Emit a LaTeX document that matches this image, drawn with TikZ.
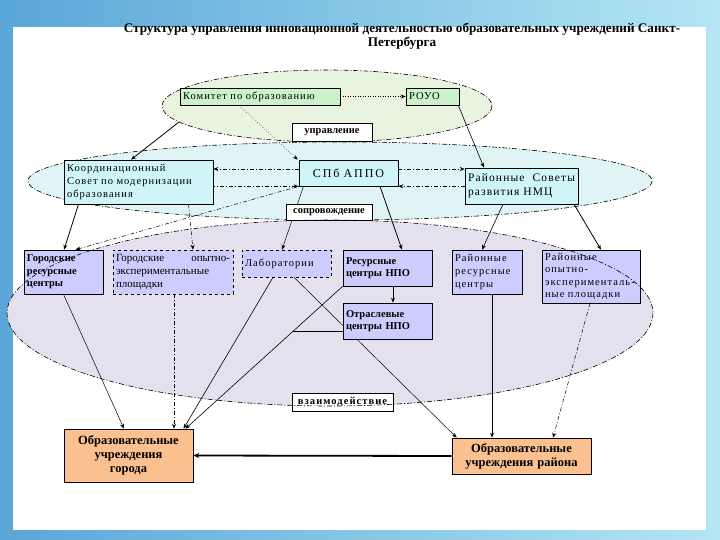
\documentclass[tikz,border=0pt]{standalone}
\usepackage{fontspec}
\setmainfont{Liberation Serif}
\newfontfamily\spc[LetterSpace=10]{Liberation Serif}
\newfontfamily\spcw[LetterSpace=16]{Liberation Serif}
\usetikzlibrary{arrows.meta}
\pgfdeclarelayer{bg}
\pgfdeclarelayer{fg}
\pgfsetlayers{bg,main,fg}
\definecolor{slideL}{HTML}{5AA6D8}
\definecolor{slideR}{HTML}{B4E6F4}
\definecolor{grn}{HTML}{CCF2CC}
\definecolor{cyn}{HTML}{CFF5F8}
\definecolor{prp}{HTML}{CCCCFF}
\definecolor{pch}{HTML}{FAC090}
\definecolor{ellG}{HTML}{E8F4E0}
\definecolor{ellC}{HTML}{E0F4F6}
\definecolor{ellP}{HTML}{E4E0EE}
\tikzset{
  box/.style={draw=black, line width=0.6pt, inner xsep=3pt, inner ysep=1.5pt, align=left, font=\spc\fontsize{10.5}{13}\selectfont},
  bbox/.style={box, font=\bfseries\fontsize{10.5}{12.5}\selectfont},
  oubox/.style={draw=black, line width=0.6pt, fill=pch, inner sep=3pt, align=center, font=\bfseries\fontsize{12.5}{14}\selectfont},
  lbl/.style={draw=black, fill=white, line width=0.6pt, inner sep=1pt, font=\bfseries\fontsize{10.5}{12}\selectfont},
  arr/.style={-{Stealth[length=5pt,width=4pt]}, line width=0.5pt},
  dd/.style={dash pattern=on 4pt off 2pt on 1pt off 2pt},
  ell/.style={draw=black, line width=0.6pt, dash pattern=on 5pt off 2pt on 1pt off 2pt},
}
\begin{document}
\begin{tikzpicture}[x=1pt,y=-1pt]
\useasboundingbox (0,0) rectangle (720,540);
\begin{pgfonlayer}{bg}
\shade[left color=slideL, right color=slideR] (0,0) rectangle (720,540);
\fill[white] (13,27) rectangle (706,530);
\fill[ellG] (327,106) ellipse [x radius=165, y radius=36];
\draw[ell] (327,106) ellipse [x radius=165, y radius=36];
\fill[ellC] (340,181) ellipse [x radius=312, y radius=39];
\draw[ell] (340,181) ellipse [x radius=312, y radius=39];
\fill[ellP] (330,313) ellipse [x radius=323, y radius=93];
\end{pgfonlayer}

\node[font=\bfseries\fontsize{13.2}{14.5}\selectfont, align=center] (title) at (402,36)
  {Структура управления инновационной деятельностью образовательных учреждений Санкт-\\Петербурга};

% top level
\node[box, fill=grn, text width=154pt, minimum height=17pt] (kom) at (260,96.5) {Комитет по образованию};
\node[box, fill=grn, text width=47pt, minimum height=17pt] (rouo) at (432.5,96.5) {РОУО};
\node[lbl, minimum width=80pt, minimum height=18pt] (upr) at (332,132) {управление};

% middle level
\node[box, fill=cyn, text width=143pt, minimum height=44pt] (koord) at (138.5,182) {Координационный\\Совет по модернизации\\образования};
\node[box, fill=cyn, text width=93pt, minimum height=26pt, align=center, font=\spcw\fontsize{12}{14}\selectfont] (appo) at (348.5,173) {СПб АППО};
\node[box, fill=cyn, text width=107pt, minimum height=36pt, font=\spc\fontsize{11.5}{14}\selectfont] (rsov) at (521.5,186) {Районные\hfill Советы\\развития НМЦ};
\node[lbl, minimum width=86pt, minimum height=16pt] (sopr) at (329,212) {сопровождение};

% lower row
\node[bbox, fill=prp, text width=73pt, minimum height=44pt] (grc) at (63.5,272) {Городские\\ресурсные\\центры};
\node[box, fill=prp, dashed, text width=114pt, minimum height=44pt, font=\fontsize{11}{13}\selectfont] (goep) at (173,272) {Городские\hfill опытно-\\экспериментальные\\площадки};
\node[box, fill=prp, dashed, text width=83pt, minimum height=27pt] (lab) at (286.5,263.5) {Лаборатории};
\node[bbox, fill=prp, text width=83pt, minimum height=36pt] (rcnpo) at (387.5,268) {Ресурсные\\центры НПО};
\node[box, fill=prp, text width=64pt, minimum height=44pt] (rrc) at (487,272) {Районные\\ресурсные\\центры};
\node[box, fill=prp, text width=92pt, minimum height=53pt, font=\spc\fontsize{10.5}{12.3}\selectfont] (roep) at (591,276.5) {Районные\\опытно-\\эксперименталь-\\ные площадки};
\node[bbox, fill=prp, text width=83pt, minimum height=36pt] (otr) at (387.5,321) {Отраслевые\\центры НПО};
\node[lbl, minimum width=101pt, minimum height=18pt, font=\spc\bfseries\fontsize{10.5}{12}\selectfont] (vz) at (342.5,402) {взаимодействие};

% bottom
\node[oubox, text width=123pt, minimum height=53pt] (ougor) at (128.5,455.5) {Образовательные\\учреждения\\города};
\node[oubox, text width=133pt, minimum height=36pt] (ourai) at (521.5,456) {Образовательные\\учреждения района};

\coordinate (e1) at (179,122);
\coordinate (mrg) at (293.4,331);

\begin{pgfonlayer}{bg}
% connectors behind boxes
\draw[arr, dotted] ([xshift=-21pt]kom.south) -- ([xshift=-1pt]appo.north west);
\draw[arr, dotted] (kom.east) -- (rouo.west);
\draw[arr, line width=0.8pt] (e1) -- ([xshift=-7.5pt]koord.north);
\draw[arr, line width=0.6pt] ([xshift=-1pt]rouo.south east) -- ([xshift=-37.5pt]rsov.north);
\draw[arr, dd] ([yshift=4pt]appo.west) -- ([yshift=4pt]appo.west -| koord.east);
\draw[arr, dd, {Stealth[length=5pt,width=4pt]}-] (appo.south west) -- (appo.south west -| koord.east);
\draw[arr, dd] ([yshift=4pt]appo.east) -- ([yshift=4pt]appo.east -| rsov.west);
\draw[arr, dd] (appo.south east -| rsov.west) -- (appo.south east);
\draw[arr, dd] (appo.south west) -- ([xshift=12pt]grc.north);
\draw[arr, line width=0.8pt] ([xshift=-60pt]koord.south) -- ([xshift=0.5pt]grc.north);
\draw[arr, dd] ([xshift=50pt]koord.south) -- ([xshift=20pt]goep.north);
\draw[arr] ([xshift=-45pt]appo.south) -- ([xshift=-4.5pt]lab.north);
\draw[arr, line width=0.8pt] ([xshift=31.5pt]appo.south) -- ([xshift=14.5pt]rcnpo.north);
\draw[arr, line width=0.6pt] ([xshift=-18.5pt]rsov.south) -- ([xshift=-5pt]rrc.north);
\draw[arr, line width=0.8pt] ([xshift=52.5pt]rsov.south) -- ([xshift=10pt]roep.north);
\draw[arr, line width=0.8pt] ([xshift=5.5pt]rcnpo.south) -- ([xshift=5.5pt]otr.north);
\draw[arr] (grc.south) -- ([xshift=-4.5pt]ougor.north);
\draw[arr, dd] ([xshift=1pt]goep.south) -- ([xshift=45.5pt]ougor.north);
\draw[arr, line width=0.6pt] ([xshift=-13.5pt]lab.south) -- ([xshift=55pt]ougor.north);
\draw[arr, line width=0.6pt] (rcnpo.south west) -- ([xshift=57pt]ougor.north);
\draw[line width=0.5pt] ([yshift=-10pt]otr.west) -- (mrg);
\draw[arr] ([xshift=7.5pt]lab.south) -- ([xshift=5pt]ourai.north west);
\draw[arr, line width=0.9pt] ([xshift=5pt]rrc.south) -- ([xshift=-29.5pt]ourai.north);
\draw[arr, dd] ([xshift=-1pt]roep.south) -- ([xshift=31.5pt]ourai.north);
\draw[-{Stealth[length=6pt,width=5pt]}, line width=1.8pt] (ourai.west) -- (ougor.east);
\end{pgfonlayer}

\begin{pgfonlayer}{fg}
\draw[ell] (330,313) ellipse [x radius=323, y radius=93];
\end{pgfonlayer}
\end{tikzpicture}
\end{document}
